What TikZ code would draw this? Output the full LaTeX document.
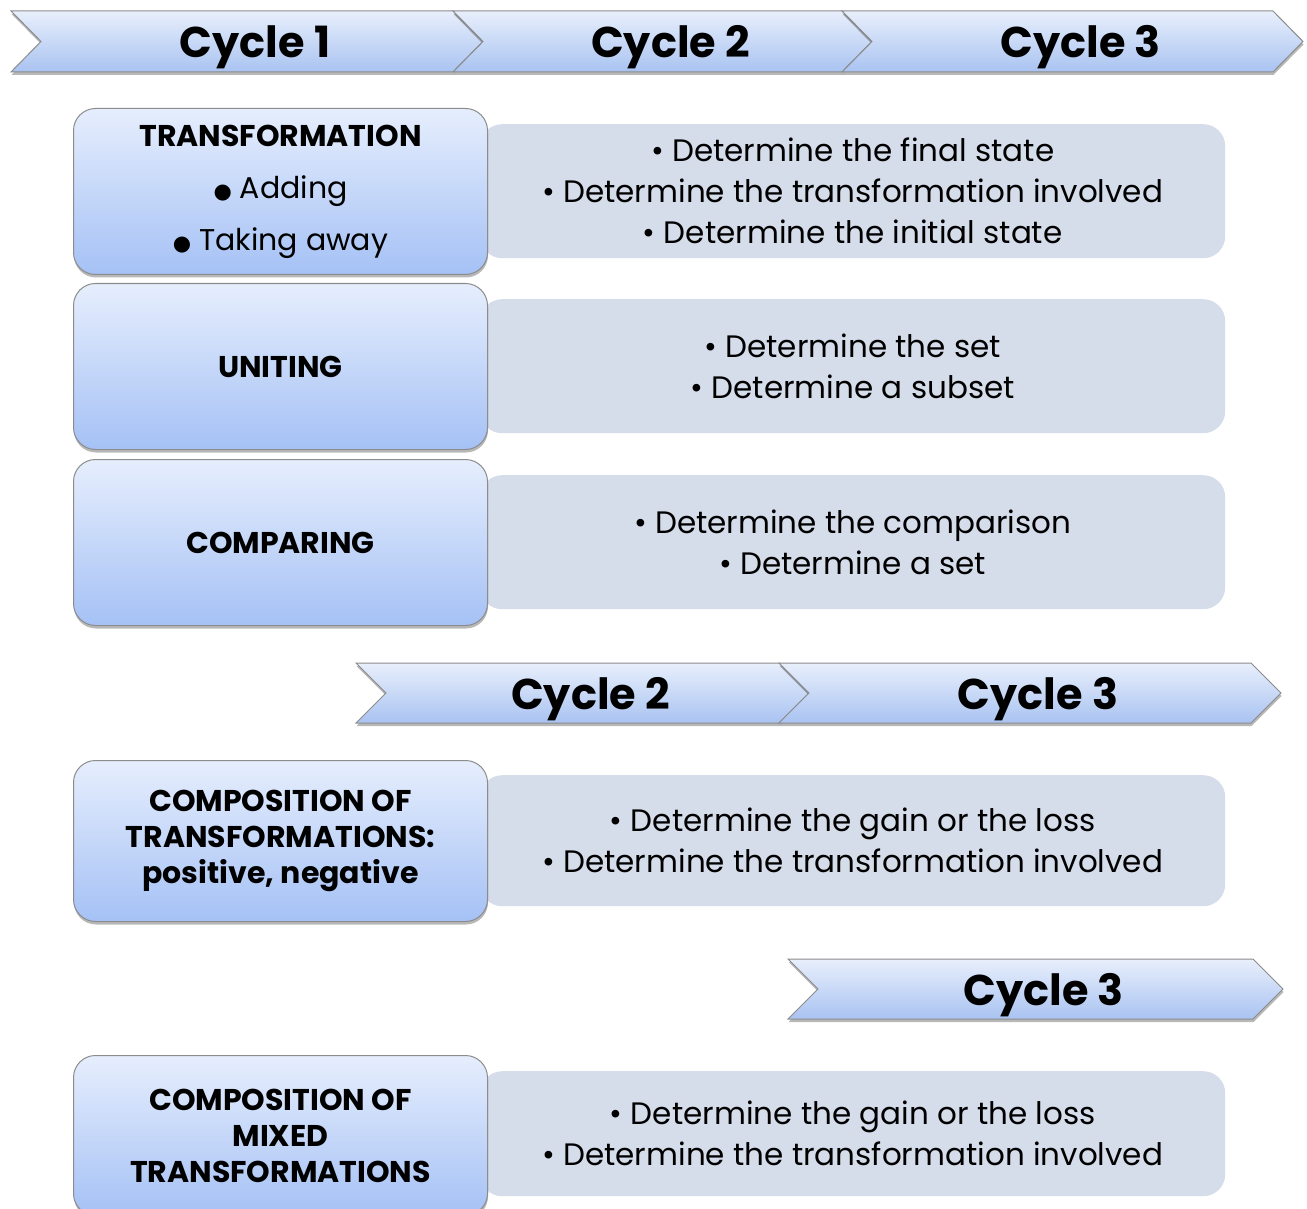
\documentclass[tikz,border=0pt]{standalone}
\usepackage{fontspec}
\setmainfont{Poppins}
\newfontfamily\symfont{DejaVu Sans}
\usetikzlibrary{shadows}
\definecolor{chevtop}{HTML}{E8EFFC}
\definecolor{chevbot}{HTML}{A9C3F1}
\definecolor{boxtop}{HTML}{E6EEFD}
\definecolor{boxbot}{HTML}{A5C1F5}
\definecolor{edge}{HTML}{8C8C8C}
\definecolor{panel}{HTML}{D5DCEA}
\newcommand\bigdot{{\symfont\fontsize{21}{21}\selectfont ●}}
\tikzset{
  softshadow/.style={drop shadow={shadow xshift=0.5pt, shadow yshift=-3pt, fill=black, opacity=0.28}},
  chev/.style={draw=edge, line width=1pt, top color=chevtop, bottom color=chevbot, softshadow},
  cyc/.style={font=\fontsize{43}{48}\selectfont\bfseries, inner sep=0pt, anchor=base},
  lbox/.style={draw=edge, line width=1pt, rounded corners=22pt, top color=boxtop, bottom color=boxbot,
    softshadow, minimum width=414pt, align=center, anchor=north west, inner sep=0pt},
  rbox/.style={fill=panel, rounded corners=22pt, minimum width=745pt, align=center, anchor=north west,
    inner sep=0pt, font=\fontsize{31}{41}\selectfont},
  ltitle/.style={font=\fontsize{30}{36}\selectfont\bfseries}
}
% cycle arrow: name, left x, right x (top corner), top y, bottom y, label
\newcommand\cyclearrow[6]{%
  \path[chev] (#2,#4) -- (#3,#4) -- ({#3+30},{(#4+#5)/2}) -- (#3,#5) -- (#2,#5)
    -- ({#2+30},{(#4+#5)/2}) -- cycle;
  \node[cyc] (#1) at ({(#2+#3)/2+23},{(#4+#5)/2+16}) {#6};}
\begin{document}
\begin{tikzpicture}[x=1pt,y=-1pt]
\useasboundingbox[fill=white] (0,0) rectangle (1307,1209);

% top row of cycle arrows
\cyclearrow{c11}{11}{453}{11}{72}{Cycle 1}
\cyclearrow{c12}{453}{842}{11}{72}{Cycle 2}
\cyclearrow{c13}{842}{1273}{11}{72}{Cycle 3}

% detail panels (drawn first, behind the titles)
\node[rbox, minimum height=134pt] (d1) at (480,124)
  {• Determine the final state\\• Determine the transformation involved\\• Determine the initial state};
\node[rbox, minimum height=134pt] (d2) at (480,299)
  {• Determine the set\\• Determine a subset};
\node[rbox, minimum height=134pt] (d3) at (480,475)
  {• Determine the comparison\\• Determine a set};

% title boxes
\node[lbox, minimum height=166pt, font=\fontsize{30}{52}\selectfont] (t1) at (73,108)
  {{\bfseries TRANSFORMATION}\\
   \bigdot\ Adding\\
   \bigdot\ Taking away};
\node[lbox, minimum height=166pt, ltitle] (t2) at (73,283) {UNITING};
\node[lbox, minimum height=166pt, ltitle] (t3) at (73,459) {COMPARING};

% second row of cycle arrows
\cyclearrow{c22}{356}{779}{663}{723}{Cycle 2}
\cyclearrow{c23}{779}{1251}{663}{723}{Cycle 3}

\node[rbox, minimum height=131pt] (d4) at (480,775)
  {• Determine the gain or the loss\\• Determine the transformation involved};
\node[lbox, minimum height=161pt, ltitle] (t4) at (73,760)
  {COMPOSITION OF\\TRANSFORMATIONS:\\positive, negative};

% third row
\cyclearrow{c33}{788}{1253}{959}{1019}{Cycle 3}

\node[rbox, minimum height=125pt] (d5) at (480,1071)
  {• Determine the gain or the loss\\• Determine the transformation involved};
\node[lbox, minimum height=160pt, ltitle] (t5) at (73,1055)
  {COMPOSITION OF\\MIXED\\TRANSFORMATIONS};
\end{tikzpicture}
\end{document}
